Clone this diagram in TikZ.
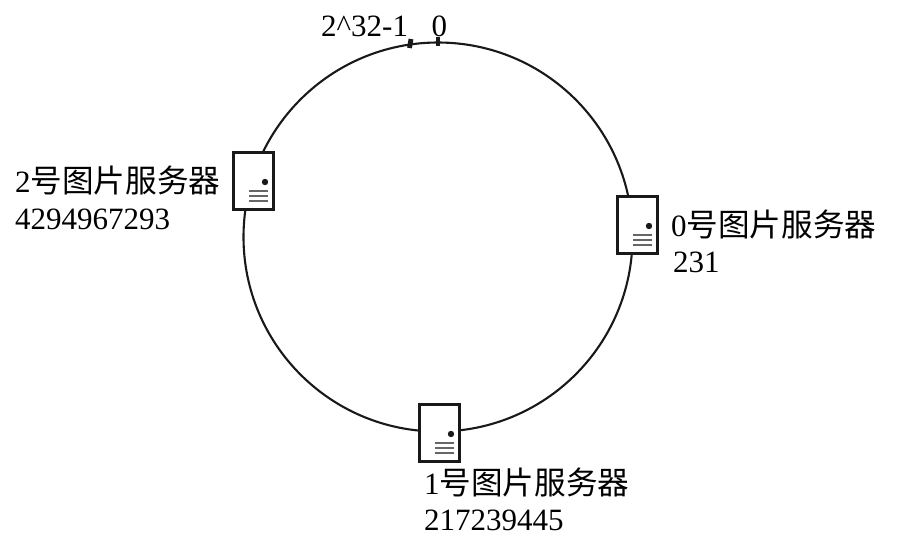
\documentclass[tikz,border=0pt]{standalone}
\usepackage{fontspec}
\setmainfont{Liberation Serif}
\newfontfamily\cjk{Noto Sans CJK SC}[Scale=1.02]
\newcommand{\zh}[1]{{\cjk #1}}
\tikzset{
  x=1pt,y=-1pt,
  ring/.style={draw=black!90,line width=2.1pt,circle,minimum size=389pt,inner sep=0pt},
  serverbox/.style={draw=black!90,fill=white,line width=3.2pt,minimum width=40pt,minimum height=57pt,inner sep=0pt,rectangle},
  tick/.style={line width=4.8pt,draw=black!90},
  vent/.style={line width=1.4pt,draw=black!60},
  lab/.style={font=\fontsize{31}{34}\selectfont,anchor=west,inner sep=0pt},
  numlab/.style={font=\fontsize{31}{34}\selectfont,anchor=west,inner sep=0pt},
  pics/server/.style={code={
    \node[serverbox] (-box) at (0,0) {};
    \fill[black!90] (11.5,1) circle (3.2pt);
    \foreach \yy in {10,15,20} \draw[vent] (-4.5,\yy) -- (14.5,\yy);
  }}
}
\begin{document}
\begin{tikzpicture}
\useasboundingbox (0,0) rectangle (898,542);
\fill[white] (0,0) rectangle (898,542);
\node[ring] (ring) at (438,237) {};
\coordinate (t0a) at (438,37); \coordinate (t0b) at (438,46);
\coordinate (t1a) at (411,39); \coordinate (t1b) at (409.5,48);
\draw[tick] (t0a) -- (t0b);
\draw[tick] (t1a) -- (t1b);
\pic (s2) at (253.5,181) {server};
\pic (s0) at (637.5,225) {server};
\pic (s1) at (439.5,433) {server};
\node[numlab,anchor=base west] (max) at (321,36) {2\^{}32-1};
\node[numlab,anchor=base west] (zero) at (431.5,36) {0};
\node[lab] (n2) at (15,180) {2\zh{号图片服务器}};
\node[numlab] (v2) at (15,219) {4294967293};
\node[lab] (n0) at (671,224) {0\zh{号图片服务器}};
\node[numlab] (v0) at (673,262) {231};
\node[lab] (n1) at (424,482) {1\zh{号图片服务器}};
\node[numlab] (v1) at (424,520) {217239445};
\end{tikzpicture}
\end{document}
